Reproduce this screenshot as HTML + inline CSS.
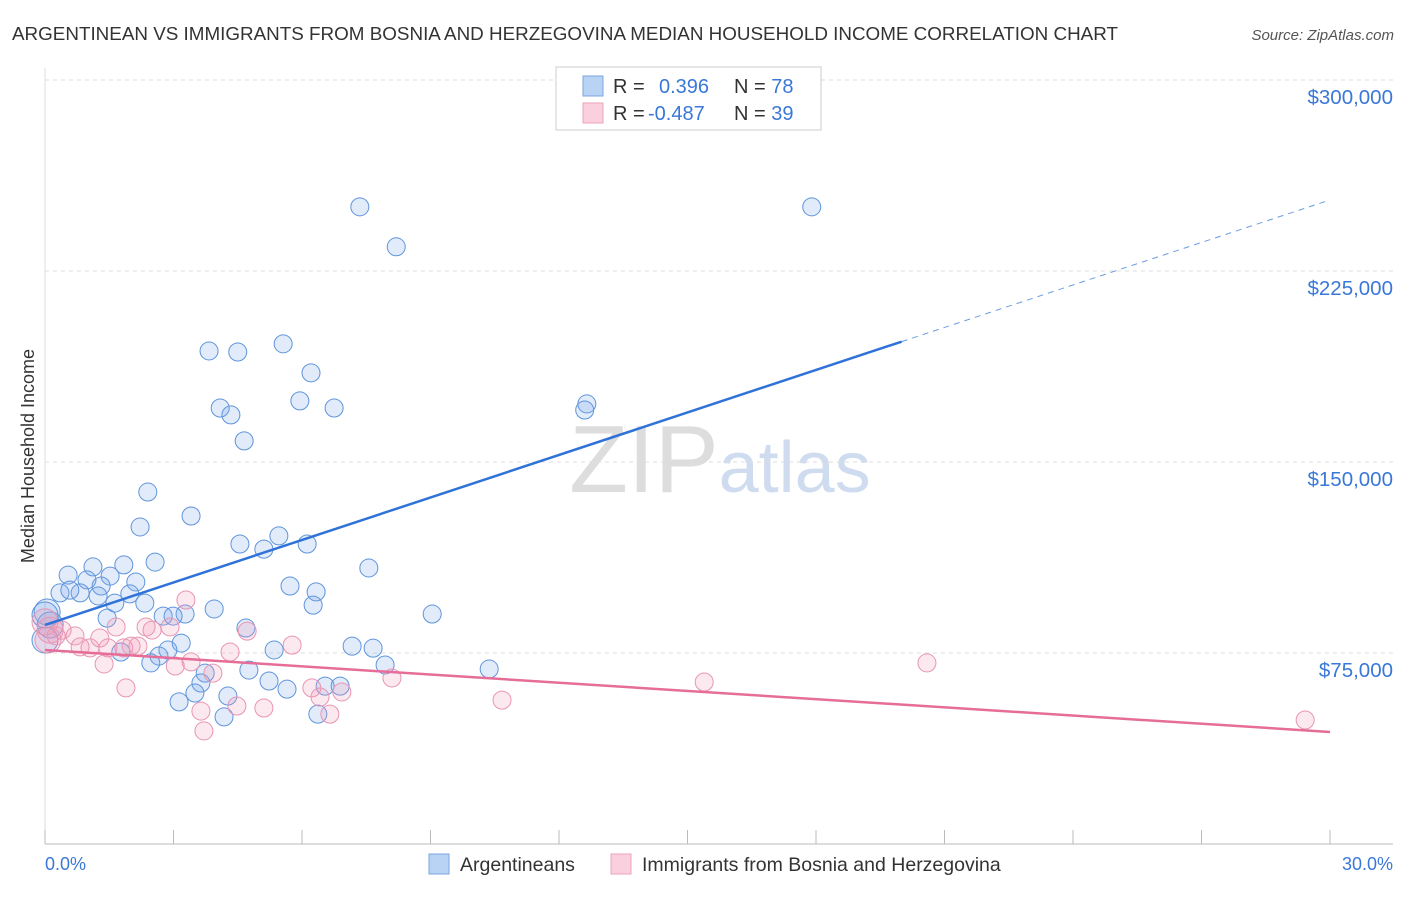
<!DOCTYPE html>
<html><head><meta charset="utf-8"><style>
body{margin:0;background:#fff;font-family:"Liberation Sans",sans-serif;}
svg text{font-family:"Liberation Sans",sans-serif;}
</style></head><body>
<svg id="c" width="1406" height="892" xmlns="http://www.w3.org/2000/svg">
<text x="12" y="40" font-size="18.5" fill="#333" textLength="1106" lengthAdjust="spacingAndGlyphs">ARGENTINEAN VS IMMIGRANTS FROM BOSNIA AND HERZEGOVINA MEDIAN HOUSEHOLD INCOME CORRELATION CHART</text>
<text x="1394" y="40" font-size="15" fill="#555" text-anchor="end" font-style="italic">Source: ZipAtlas.com</text>
<text x="720" y="492" font-size="96" fill="#ddd" text-anchor="middle" font-family="Liberation Serif">ZIP<tspan fill="#cfdcf0" font-family="Liberation Sans" font-size="72">atlas</tspan></text>
<text x="34" y="456" font-size="18" fill="#333" text-anchor="middle" transform="rotate(-90 34 456)">Median Household Income</text>
<g id="grid"></g><g id="pts"></g><g id="lines"></g>
<g>
<rect x="556" y="67" width="265" height="63" fill="#fff" stroke="#ccc"/>
<rect x="583" y="76" width="20" height="20" fill="#b9d3f5" stroke="#7aa6e0"/>
<rect x="583" y="103" width="20" height="20" fill="#fbd0de" stroke="#eba3bb"/>
<text x="613" y="93" font-size="20" fill="#333">R = <tspan fill="#3a78d8" x="659">0.396</tspan><tspan fill="#333" x="734">N = </tspan><tspan fill="#3a78d8">78</tspan></text>
<text x="613" y="120" font-size="20" fill="#333">R = <tspan fill="#3a78d8" x="648">-0.487</tspan><tspan fill="#333" x="734">N = </tspan><tspan fill="#3a78d8">39</tspan></text>
</g>
<g>
<rect x="429" y="854" width="20" height="20" fill="#b9d3f5" stroke="#7aa6e0"/>
<text x="460" y="871" font-size="19.5" fill="#333">Argentineans</text>
<rect x="611" y="854" width="20" height="20" fill="#fbd0de" stroke="#eba3bb"/>
<text x="642" y="871" font-size="19.5" fill="#333">Immigrants from Bosnia and Herzegovina</text>
</g>
<text x="45" y="870" font-size="18" fill="#3a78d8">0.0%</text>
<text x="1393" y="870" font-size="18" fill="#3a78d8" text-anchor="end">30.0%</text>
</svg>
<script>
const yTicks=[75000,150000,225000,300000];
const yTickLabels=["$75,000","$150,000","$225,000","$300,000"];
const blueX=[7.35,17.9,8.2,5.56,3.83,4.5,6.21,5.95,6.75,4.09,4.34,12.65,12.6,4.65,2.4,3.41,2.22,5.46,4.55,5.11,6.12,2.57,7.56,1.84,1.12,0.54,1.52,2.12,0.98,5.72,6.33,1.31,0.35,0.82,1.24,1.98,0.58,1.63,2.33,6.26,3.95,9.04,3.27,2.76,2.99,1.45,0.05,0.12,4.69,3.18,7.17,7.66,1.77,2.87,2.66,5.35,2.47,7.94,10.37,4.76,3.74,5.23,3.64,6.54,6.89,5.65,3.5,4.27,3.13,6.37,4.18,0,0];
const blueY=[250200,250200,234500,196400,193600,193200,185000,174000,171200,171200,168500,172800,170400,158300,138200,128800,124500,121000,117800,115800,117800,110700,108400,109600,108800,105600,105200,102900,103700,101300,99000,101300,98600,98600,97400,98200,99700,94600,94600,93800,92300,90300,90300,89500,89500,88700,91100,86000,84800,78900,77700,76900,75400,76200,73800,76200,71100,70300,68700,68300,67100,64000,63200,62000,62000,60800,59300,58100,55800,51000,49900,80100,89900];
const pinkX=[0.12,0.26,0.4,0.7,0.82,1.05,1.28,1.47,1.66,1.84,2.01,2.17,2.36,2.5,2.92,3.29,3.04,3.41,1.38,1.89,3.92,4.32,4.72,5.77,6.23,6.42,6.93,6.65,8.1,4.48,5.11,3.64,3.71,10.67,15.39,20.59,29.42,0,0.07];
const pinkY=[84000,81700,84000,81700,77400,77000,80900,77000,85200,77000,77700,77700,85200,84000,85200,95800,69900,71500,70700,61300,67100,75400,83600,78100,61300,57700,59700,51000,65200,54200,53400,52200,44400,56500,63600,71100,48700,87200,80100];
const blueTrend=[86000,252900];
const pinkTrend=[76200,44000];
const blueSolidEnd=20;
const xs=p=>45+p*1285/30;
const ys=v=>844-v*191/75000;
const NS="http://www.w3.org/2000/svg";
function mk(t,a,parent){const e=document.createElementNS(NS,t);for(const k in a)e.setAttribute(k,a[k]);document.getElementById(parent).appendChild(e);return e;}
yTicks.forEach((v,i)=>{
 const l=mk('line',{x1:45,x2:1393,y1:ys(v),y2:ys(v),stroke:'#ddd','stroke-dasharray':'4,4'},'grid');
 
 
 const t=mk('text',{x:1393,y:ys(v)+24,'font-size':20.5,fill:'#3a78d8','text-anchor':'end'},'grid');
 t.textContent=yTickLabels[i];
 
 
});
const ax=mk('line',{x1:45,x2:1393,y1:844,y2:844,stroke:'#bbb'},'grid');


const ay=mk('line',{x1:45,x2:45,y1:68,y2:844,stroke:'#ddd'},'grid');


for(let i=0;i<=10;i++){const t=mk('line',{x1:xs(i*3),x2:xs(i*3),y1:830,y2:844,stroke:'#bbb'},'grid');
 
 }
function dots(X,Y,fill,stroke,name){X.forEach((x,i)=>{const r=(x<0.2)?13:9;
 const c=mk('circle',{cx:xs(x),cy:ys(Y[i]),r:r,fill:fill,stroke:stroke,'stroke-width':1},'pts');
 
 });}
dots(blueX,blueY,'rgba(120,165,230,0.22)','#5f95dc','argentinean-point');
dots(pinkX,pinkY,'rgba(240,150,180,0.22)','#e895b2','bosnian-point');
const bAt=p=>blueTrend[0]+(blueTrend[1]-blueTrend[0])*p/30;
const b1=mk('line',{x1:xs(0),y1:ys(bAt(0)),x2:xs(blueSolidEnd),y2:ys(bAt(blueSolidEnd)),stroke:'#2f72d8','stroke-width':2.5},'lines');


const b2=mk('line',{x1:xs(blueSolidEnd),y1:ys(bAt(blueSolidEnd)),x2:xs(30),y2:ys(bAt(30)),stroke:'#6a9de0','stroke-width':1,'stroke-dasharray':'6,5'},'lines');


const p1=mk('line',{x1:xs(0),y1:ys(pinkTrend[0]),x2:xs(30),y2:ys(pinkTrend[1]),stroke:'#e56d98','stroke-width':2.5},'lines');


</script>
</body></html>
